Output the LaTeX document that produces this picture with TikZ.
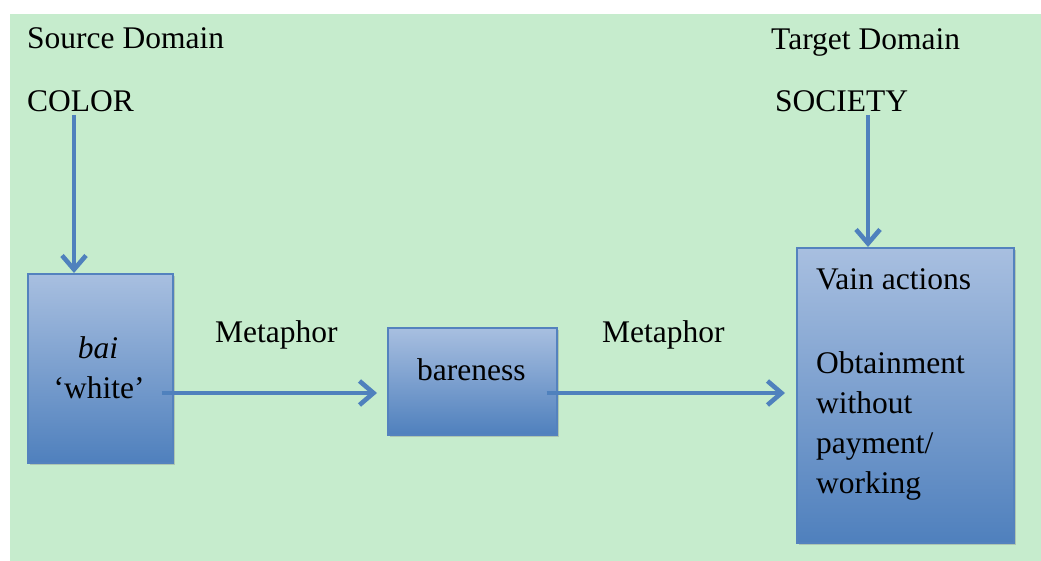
\documentclass[tikz,border=0pt]{standalone}
\usepackage{fontspec}
\setmainfont{Liberation Serif}
\usetikzlibrary{arrows.meta,shadows,calc}
\definecolor{bggreen}{RGB}{198,236,205}
\definecolor{boxtop}{RGB}{168,191,224}
\definecolor{boxbot}{RGB}{79,128,189}
\definecolor{boxline}{RGB}{84,130,190}
\definecolor{arrblue}{RGB}{79,129,189}
\tikzset{
  txt/.style={font=\fontsize{31.5}{40}\selectfont, inner sep=0pt, anchor=base west, text=black},
  conceptbox/.style={draw=boxline, line width=1.6pt, top color=boxtop, bottom color=boxbot,
    inner sep=0pt, anchor=north west,
    drop shadow={shadow xshift=2.5pt, shadow yshift=-2.5pt, opacity=0.35, fill=black!50}},
  arr/.style={draw=arrblue, line width=4.6pt, -{Straight Barb[length=14pt,width=24pt]}},
}
\begin{document}
\begin{tikzpicture}[x=1pt,y=-1pt]
  \useasboundingbox (0,0) rectangle (1041,561);
  \fill[bggreen] (10,14) rectangle (1041,561);

  % domain headings
  \node[txt] (srcdom) at (27,49) {Source Domain};
  \node[txt] (colorlbl) at (27,112) {COLOR};
  \node[txt] (tgtdom) at (771,50) {Target Domain};
  \node[txt] (society) at (775,112) {SOCIETY};

  % concept boxes
  \node[conceptbox, minimum width=145pt, minimum height=189pt] (box1) at (27,273) {};
  \node[conceptbox, minimum width=169pt, minimum height=107pt] (box2) at (387,327) {};
  \node[conceptbox, minimum width=217pt, minimum height=295pt] (box3) at (796,247) {};

  % box texts
  \node[txt, anchor=base] (bai) at (98,358) {\itshape bai};
  \node[txt, anchor=base] (white) at (99,398) {`white'};
  \node[txt] (bare) at (417,380) {bareness};
  \node[txt] (vain) at (816,290) {Vain actions};
  \node[txt, align=left, anchor=north west] (obtain) at (816,351)
    {Obtainment\\without\\payment/\\working};

  % metaphor labels
  \node[txt] (met1) at (215,342) {Metaphor};
  \node[txt] (met2) at (602,342) {Metaphor};

  % connectors
  \coordinate (colx) at (74,0);
  \coordinate (socx) at (868,0);
  \coordinate (row) at (0,393);
  \draw[arr] ($(colorlbl.base -| colx)+(0,3)$) -- (box1.north -| colx);
  \draw[arr] ($(society.base -| socx)+(0,3)$) -- (box3.north -| socx);
  \draw[arr] ($(box1.east |- row)+(-12,0)$) -- ($(box2.west |- row)+(-10,0)$);
  \draw[arr] ($(box2.east |- row)+(-11,0)$) -- ($(box3.west |- row)+(-11,0)$);
\end{tikzpicture}
\end{document}
